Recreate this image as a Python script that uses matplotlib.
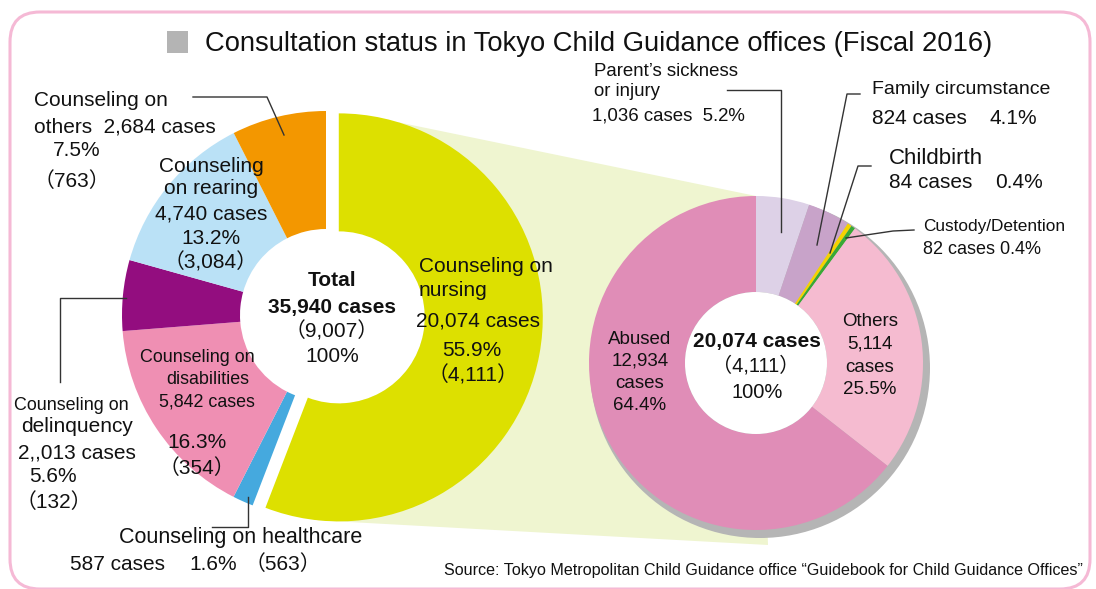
import numpy as np
import matplotlib.pyplot as plt
import matplotlib.patches as mpatches

plt.rcParams['font.family'] = ['Liberation Sans', 'Noto Sans CJK JP']

# Consultation types (left donut), clockwise from 12 o'clock
cat_names = ['nursing', 'healthcare', 'disabilities', 'delinquency', 'rearing', 'others']
cat_cases = [20074, 587, 5842, 2013, 4740, 2684]
cat_colors = ['#DDE000', '#45A9DE', '#EF8FB3', '#930D7F', '#BAE1F6', '#F39700']

# Breakdown of nursing consultations (right donut), clockwise from 12 o'clock
nurs_names = ['Parent’s sickness', 'Family circumstance', 'Childbirth',
              'Custody/Detention', 'Others', 'Abused']
nurs_cases = [1036, 824, 84, 82, 5114, 12934]
nurs_colors = ['#DDD1E7', '#C8A3C9', '#F5D200', '#39A935', '#F5BBD0', '#E08DB7']

fig = plt.figure(figsize=(10.96, 5.89), dpi=100)
ax = fig.add_axes([0, 0, 1, 1])

# layout in pixel units (y grows downward)
L_C, L_R, L_IN = (326, 315), 204, 86
R_C, R_R, R_IN = (756, 363), 167, 71

# left donut, nursing slice pulled out
wl, _ = ax.pie(cat_cases, colors=cat_colors, center=L_C, radius=L_R,
               startangle=-90, counterclock=True, explode=[13, 0, 0, 0, 0, 0],
               wedgeprops=dict(width=L_R - L_IN, linewidth=0))
nc = wl[0].center
ax.add_patch(mpatches.Circle(L_C, L_IN, color='white', lw=0, zorder=0.7))
ax.add_patch(mpatches.Circle(nc, L_IN, color='white', lw=0, zorder=0.7))

# right donut with a drop shadow
wr, _ = ax.pie(nurs_cases, colors=nurs_colors, center=R_C, radius=R_R,
               startangle=-90, counterclock=True,
               wedgeprops=dict(width=R_R - R_IN, linewidth=0))
ax.add_patch(mpatches.Circle((R_C[0] + 4, R_C[1] + 5), R_R + 3,
                             color='#B5B5B5', lw=0, zorder=0.8))
ax.add_patch(mpatches.Circle(R_C, R_IN, color='white', lw=0, zorder=1.5))

# light fan linking the nursing slice to its breakdown
a1, a2 = np.radians(-73), np.radians(96)
fan = [(nc[0] + L_R * np.cos(a1), nc[1] + L_R * np.sin(a1)),
       (R_C[0], R_C[1] - R_R),
       (R_C[0] + 12, R_C[1] + R_R + 15),
       (nc[0] + L_R * np.cos(a2), nc[1] + L_R * np.sin(a2))]
ax.add_patch(mpatches.Polygon(fan, closed=True, color='#EFF5D0', lw=0, zorder=0.5))

ax.set_xlim(0, 1096)
ax.set_ylim(589, 0)
ax.set_aspect('auto')
ax.axis('off')

# pink rounded frame
ax.add_patch(mpatches.FancyBboxPatch((10, 12), 1080, 577,
                                     boxstyle='round,pad=0,rounding_size=30',
                                     fill=False, ec='#F5B9D5', lw=2.2, zorder=3))

# title
ax.add_patch(mpatches.Rectangle((167, 31), 21, 22, color='#B4B4B4', lw=0))
ax.text(205, 44, 'Consultation status in Tokyo Child Guidance offices (Fiscal 2016)',
        fontsize=19.7, va='center', ha='left', color='#111111')


def txt(x, y, s, size=15, ha='center', bold=False):
    ax.text(x, y, s, fontsize=size, ha=ha, va='center', color='#111111',
            fontweight='bold' if bold else 'normal', zorder=4)


# leader lines
lc = dict(color='#333333', lw=1, zorder=3)
ax.plot([193, 267, 284], [97, 97, 135], **lc)
ax.plot([126, 60, 60], [298, 298, 382], **lc)
ax.plot([248, 248, 212], [497, 527, 527], **lc)
ax.plot([727, 781, 781], [90, 90, 232], **lc)
ax.plot([860, 847, 817], [94, 94, 245], **lc)
ax.plot([871, 858, 830], [166, 166, 253], **lc)
ax.plot([914, 893, 846], [230, 231, 238], **lc)

# left donut labels
txt(34, 100, 'Counseling on', ha='left')
txt(34, 127, 'others  2,684 cases', ha='left')
txt(77, 151, '7.5%')
txt(72, 181, '（763）')

for y, s in zip([166, 189, 214, 238, 262],
                ['Counseling', 'on rearing', '4,740 cases', '13.2%', '（3,084）']):
    txt(211, y, s)

txt(332, 281, 'Total', bold=True)
txt(332, 307, '35,940 cases', bold=True)
txt(332, 331, '（9,007）')
txt(332, 357, '100%')

txt(419, 266, 'Counseling on', ha='left')
txt(419, 290, 'nursing', ha='left')
txt(478, 321, '20,074 cases')
txt(472, 351, '55.9%')
txt(473, 375, '（4,111）')

txt(197, 357, 'Counseling on', size=12.9)
txt(208, 379, 'disabilities', size=12.9)
txt(207, 402, '5,842 cases', size=12.9)
txt(197, 443, '16.3%')
txt(197, 468, '（354）')

txt(71, 406, 'Counseling on', size=12.9)
txt(77, 427, 'delinquency')
txt(77, 453, '2,,013 cases')
txt(53, 477, '5.6%')
txt(54, 502, '（132）')

txt(241, 537, 'Counseling on healthcare', size=15.5)
txt(70, 564, '587 cases', ha='left')
txt(189, 564, '1.6%', ha='left')
txt(283, 564, '（563）')

# right donut labels
txt(594, 72, 'Parent’s sickness', size=13.4, ha='left')
txt(594, 91, 'or injury', size=13.4, ha='left')
txt(592, 116, '1,036 cases  5.2%', size=13.4, ha='left')

txt(872, 90, 'Family circumstance', size=14, ha='left')
txt(872, 118, '824 cases', ha='left')
txt(990, 118, '4.1%', ha='left')

txt(889, 158, 'Childbirth', size=16, ha='left')
txt(889, 182, '84 cases', ha='left')
txt(995, 182, '0.4%', ha='left')

txt(923, 227, 'Custody/Detention', size=12.4, ha='left')
txt(923, 250, '82 cases 0.4%', size=13, ha='left')

txt(757, 342, '20,074 cases', bold=True)
txt(756, 366, '（4,111）', size=14.5)
txt(757, 392, '100%', size=14.5)

for y, s in zip([339, 361, 384, 406], ['Abused', '12,934', 'cases', '64.4%']):
    txt(640, y, s, size=13.5)
for y, s in zip([322, 344, 367, 390], ['Others', '5,114', 'cases', '25.5%']):
    txt(870, y, s, size=13.5)

txt(1083, 571, 'Source: Tokyo Metropolitan Child Guidance office “Guidebook for Child Guidance Offices”',
    size=11.6, ha='right')

fig.savefig('out.png', dpi=100)
